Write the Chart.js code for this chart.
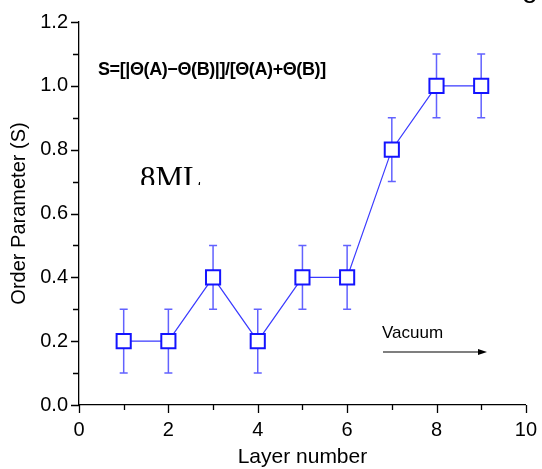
<!DOCTYPE html>
<html>
<head>
<meta charset="utf-8">
<script src="https://cdn.jsdelivr.net/npm/chart.js@4.4.1/dist/chart.umd.min.js"></script>
<style>
  html, body { margin: 0; padding: 0; background: #fff; }
  canvas { display: block; }
</style>
</head>
<body>
<canvas id="chart" width="542" height="469"></canvas>
<script>
const LAYERS = [1, 2, 3, 4, 5, 6, 7, 8, 9];
const ORDER_PARAM = [0.2, 0.2, 0.4, 0.2, 0.4, 0.4, 0.8, 1.0, 1.0];
const ERRORS = [0.1, 0.1, 0.1, 0.1, 0.1, 0.1, 0.1, 0.1, 0.1];

const SANS = "'Liberation Sans', Arial, sans-serif";
const SERIF = "'Liberation Serif', 'Times New Roman', serif";
const BLUE = '#1414ff';

Chart.defaults.font.family = SANS;
Chart.defaults.color = '#000';

// error bars under the squares
const errorBars = {
    id: 'errorBars',
    beforeDatasetsDraw(chart) {
        const { ctx, scales: { x, y } } = chart;
        ctx.save();
        ctx.strokeStyle = '#6262ff';
        ctx.lineWidth = 1.5;
        LAYERS.forEach((l, i) => {
            const px = x.getPixelForValue(l);
            const top = y.getPixelForValue(ORDER_PARAM[i] + ERRORS[i]);
            const bot = y.getPixelForValue(ORDER_PARAM[i] - ERRORS[i]);
            ctx.beginPath();
            ctx.moveTo(px, top); ctx.lineTo(px, bot);
            ctx.moveTo(px - 4, top); ctx.lineTo(px + 4, top);
            ctx.moveTo(px - 4, bot); ctx.lineTo(px + 4, bot);
            ctx.stroke();
        });
        ctx.restore();
    }
};

// outward ticks, minor ones shorter
const outerTicks = {
    id: 'outerTicks',
    afterDraw(chart) {
        const { ctx, scales: { x, y } } = chart;
        ctx.save();
        ctx.strokeStyle = '#000';
        ctx.lineWidth = 1.3;
        ctx.beginPath();
        x.ticks.forEach(t => {
            const px = Math.round(x.getPixelForValue(t.value)) + 0.5;
            const len = t.value % 2 === 0 ? 8 : 5;
            ctx.moveTo(px, x.top); ctx.lineTo(px, x.top + len);
        });
        y.ticks.forEach(t => {
            const py = Math.round(y.getPixelForValue(t.value)) + 0.5;
            const len = Math.round(t.value * 10) % 2 === 0 ? 8 : 6;
            ctx.moveTo(y.right, py); ctx.lineTo(y.right - len, py);
        });
        ctx.stroke();
        ctx.restore();
    }
};

// text annotations
const notes = {
    id: 'notes',
    afterDraw(chart) {
        const { ctx } = chart;
        ctx.save();
        ctx.fillStyle = '#000';
        ctx.textBaseline = 'alphabetic';

        ctx.font = 'bold 18px ' + SANS;
        ctx.letterSpacing = '-0.4px';
        ctx.fillText('S=[|Θ(A)−Θ(B)|]/[Θ(A)+Θ(B)]', 98, 75);
        ctx.letterSpacing = '0px';

        ctx.save();
        ctx.beginPath();
        ctx.rect(0, 0, 542, 185);
        ctx.clip();
        ctx.font = '31px ' + SERIF;
        ctx.fillText('8ML', 140, 188);
        ctx.restore();

        ctx.font = '17px ' + SANS;
        ctx.fillText('Vacuum', 382, 338);

        ctx.strokeStyle = '#000';
        ctx.lineWidth = 1.2;
        ctx.beginPath();
        ctx.moveTo(383, 352); ctx.lineTo(479, 352);
        ctx.stroke();
        ctx.beginPath();
        ctx.moveTo(487, 352); ctx.lineTo(478, 349); ctx.lineTo(478, 355);
        ctx.closePath();
        ctx.fill();

        // leftover glyph at the top edge
        ctx.font = '28px ' + SANS;
        ctx.fillText('g', 522, -3);
        ctx.restore();
    }
};

new Chart(document.getElementById('chart'), {
    type: 'line',
    data: {
        datasets: [{
            data: LAYERS.map((l, i) => ({ x: l, y: ORDER_PARAM[i] })),
            borderColor: '#3a3aff',
            borderWidth: 1.2,
            pointStyle: 'rect',
            pointRadius: 10,
            pointBorderWidth: 2,
            pointBorderColor: BLUE,
            pointBackgroundColor: '#fff',
            tension: 0,
            fill: false
        }]
    },
    options: {
        responsive: false,
        animation: false,
        layout: { padding: { top: 22, right: 13, left: 0, bottom: 0 } },
        plugins: { legend: { display: false }, tooltip: { enabled: false } },
        scales: {
            x: {
                type: 'linear',
                min: 0,
                max: 10,
                afterFit: s => { s.height = 64; },
                grid: { display: false, tickLength: 8 },
                border: { color: '#000', width: 1.3 },
                ticks: {
                    stepSize: 1,
                    autoSkip: false,
                    maxRotation: 0,
                    padding: 5,
                    font: { size: 20 },
                    callback: v => v % 2 === 0 ? String(v) : ''
                },
                title: {
                    display: true,
                    text: 'Layer number',
                    font: { size: 21, lineHeight: 1 },
                    padding: { top: 0, bottom: 1 }
                }
            },
            y: {
                min: 0,
                max: 1.2,
                afterFit: s => { s.width = 79; },
                grid: { display: false, tickLength: 8 },
                border: { color: '#000', width: 1.3 },
                ticks: {
                    stepSize: 0.1,
                    autoSkip: false,
                    padding: 3,
                    font: { size: 20 },
                    callback: v => Math.round(v * 10) % 2 === 0 ? v.toFixed(1) : ''
                },
                title: {
                    display: true,
                    text: 'Order Parameter (S)',
                    font: { size: 20, lineHeight: 1 },
                    padding: { top: 9, bottom: 0 }
                }
            }
        }
    },
    plugins: [errorBars, outerTicks, notes]
});
</script>
</body>
</html>
